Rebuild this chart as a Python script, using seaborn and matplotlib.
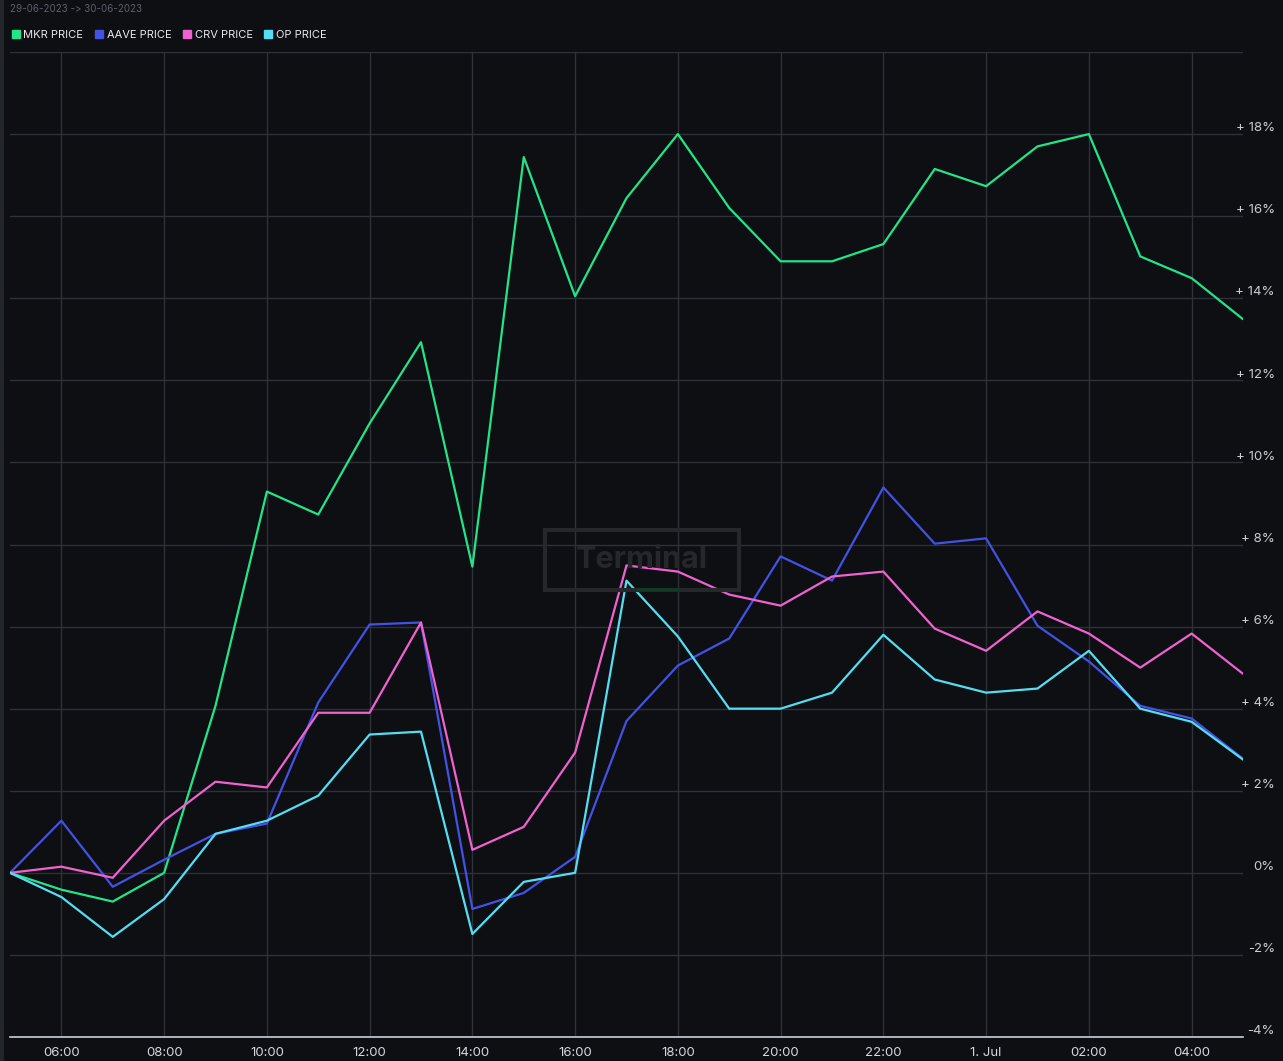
import seaborn as sns
import pandas as pd
import matplotlib.pyplot as plt
import matplotlib.transforms as mtransforms
from matplotlib.lines import Line2D
from matplotlib.patches import Rectangle

# hourly points, 30 Jun 05:00 -> 1 Jul 05:00
times = pd.date_range("2023-06-30 05:00", periods=25, freq="h")

mkr = [0.0, -0.41, -0.70, 0.0, 4.07, 9.29, 8.73, 10.95, 12.93, 7.46, 17.44, 14.05, 16.44,
       18.0, 16.2, 14.9, 14.9, 15.32, 17.15, 16.73, 17.7, 18.0, 15.02, 14.49, 13.49]
aave = [0.0, 1.27, -0.34, 0.32, 0.95, 1.2, 4.15, 6.05, 6.1, -0.88, -0.49, 0.39, 3.7,
        5.05, 5.71, 7.71, 7.12, 9.39, 8.02, 8.15, 6.02, 5.15, 4.07, 3.76, 2.78]
crv = [0.0, 0.15, -0.12, 1.27, 2.22, 2.08, 3.9, 3.9, 6.1, 0.56, 1.12, 2.93, 7.49,
       7.34, 6.78, 6.51, 7.22, 7.34, 5.95, 5.41, 6.37, 5.83, 5.0, 5.83, 4.85]
op = [0.0, -0.59, -1.56, -0.64, 0.95, 1.27, 1.88, 3.37, 3.44, -1.49, -0.22, 0.0, 7.12,
      5.76, 4.0, 4.0, 4.39, 5.8, 4.71, 4.39, 4.49, 5.41, 4.0, 3.68, 2.76]

series_names = ["MKR PRICE", "AAVE PRICE", "CRV PRICE", "OP PRICE"]
series_colors = ["#22e58a", "#4452e4", "#f062d0", "#55def2"]

xtick_labels = ["06:00", "08:00", "10:00", "12:00", "14:00", "16:00", "18:00",
                "20:00", "22:00", "1. Jul", "02:00", "04:00"]
ytick_values = [-4, -2, 0, 2, 4, 6, 8, 10, 12, 14, 16, 18, 20]
ytick_labels = ["-4%", "-2%", "0%", "+ 2%", "+ 4%", "+ 6%", "+ 8%", "+ 10%",
                "+ 12%", "+ 14%", "+ 16%", "+ 18%", ""]

bg = "#0d0f13"
grid_col = "#2e3137"

sns.set_theme(style="dark", rc={
    "figure.facecolor": bg,
    "axes.facecolor": bg,
    "savefig.facecolor": bg,
})
plt.rcParams["font.family"] = ["Inter", "DejaVu Sans"]

df = pd.DataFrame({
    "time": list(times) * 4,
    "value": mkr + aave + crv + op,
    "series": [n for n in series_names for _ in range(len(times))],
})

fig = plt.figure(figsize=(12.83, 10.61), dpi=100)
W, H = 1283, 1061
ax = fig.add_axes([10 / W, 24 / H, 1233 / W, (1037 - 52) / H])

sns.lineplot(data=df, x="time", y="value", hue="series",
             palette=dict(zip(series_names, series_colors)),
             linewidth=1.6, ax=ax, legend=False)

ax.set_xlim(times[0], times[-1])
ax.set_ylim(-4, 20)

# x ticks every two hours from 06:00
ax.set_xticks(list(times[1::2])[:len(xtick_labels)])
ax.set_xticklabels(xtick_labels, color="#d4d8de", fontsize=9.5)
ax.tick_params(axis="x", length=6, width=1, color="#c8d0dc", pad=1, direction="out")

ax.yaxis.tick_right()
ax.set_yticks(ytick_values)
ax.set_yticklabels(ytick_labels, color="#c9ccd1", fontsize=9.5, ha="right", va="baseline")
ax.tick_params(axis="y", length=0, pad=23)
offset = mtransforms.ScaledTranslation(0, 2 / 72, fig.dpi_scale_trans)
for lab in ax.get_yticklabels():
    lab.set_transform(lab.get_transform() + offset)

ax.grid(True, color=grid_col, linewidth=1)
ax.set_xlabel("")
ax.set_ylabel("")
for side in ["top", "left", "right"]:
    ax.spines[side].set_visible(False)
ax.spines["bottom"].set_color("#c8d0dc")
ax.spines["bottom"].set_linewidth(1.2)

# watermark
fig.add_artist(Rectangle((545 / W, 1 - 590 / H), 194 / W, 60 / H, transform=fig.transFigure,
                         fill=False, edgecolor="#25272b", linewidth=3, zorder=0.5))
fig.text(642 / W, 1 - 560 / H, "Terminal", color="#25272b", fontsize=22, fontweight="bold",
         ha="center", va="center")
fig.add_artist(Line2D([637 / W, 679 / W], [1 - 589 / H, 1 - 589 / H], transform=fig.transFigure,
                      color="#123a24", linewidth=2))

# left panel border
fig.add_artist(Line2D([1.5 / W, 1.5 / W], [0, 1], transform=fig.transFigure,
                      color="#22252a", linewidth=3))

# header
fig.text(10 / W, 1 - 9 / H, "29-06-2023 -> 30-06-2023", color="#5c6068", fontsize=7,
         ha="left", va="center")
handles = [Line2D([], [], marker="s", linestyle="none", color=c, markersize=6) for c in series_colors]
fig.legend(handles, series_names, loc="center left", bbox_to_anchor=(-1 / W, 1 - 35 / H),
           ncol=4, frameon=False, fontsize=8, labelcolor="#e8eaee",
           handletextpad=0.1, columnspacing=0.8, handlelength=1.2)

fig.savefig("out.png", dpi=100)
